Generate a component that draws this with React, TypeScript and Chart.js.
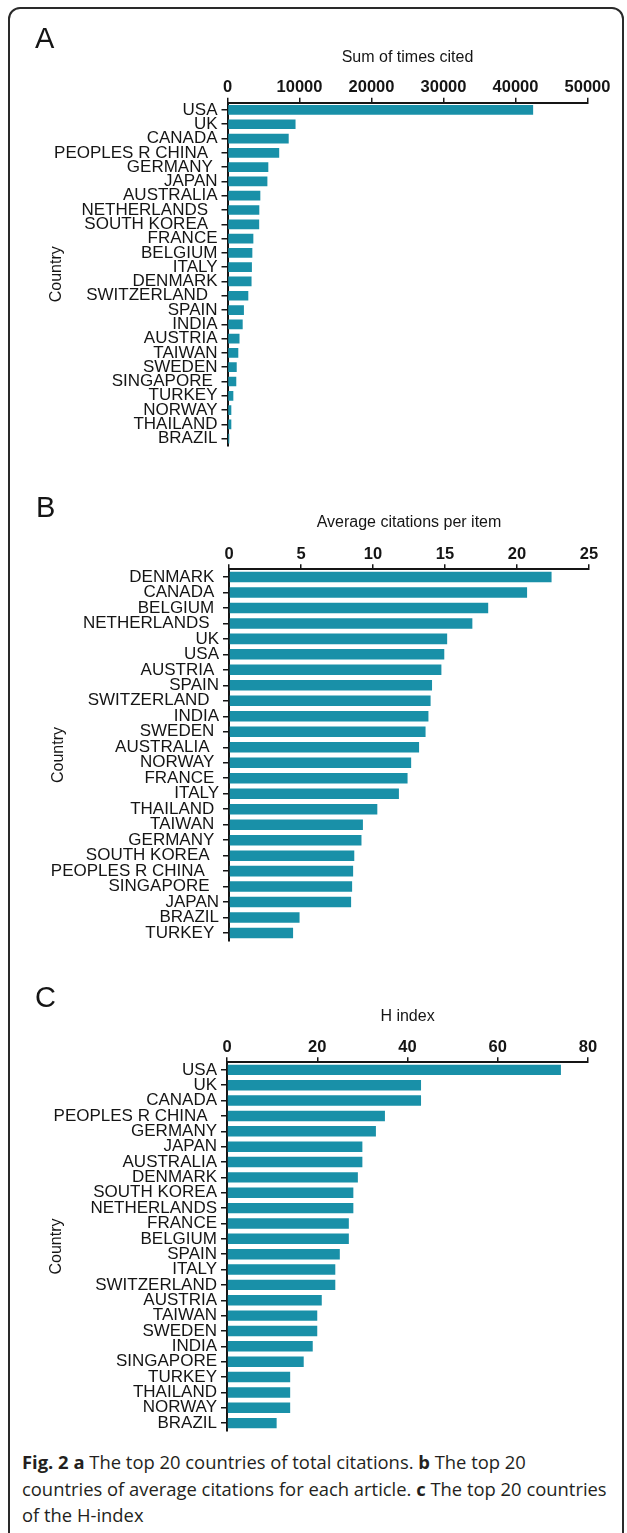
import React, { useEffect, useRef } from "react";
import { Chart, registerables } from "chart.js";

Chart.register(...registerables);

// ---------- DATA ----------
const countriesA = [
  "USA", "UK", "CANADA", "PEOPLES R CHINA  ", "GERMANY ", "JAPAN", "AUSTRALIA",
  "NETHERLANDS  ", "SOUTH KOREA  ", "FRANCE", "BELGIUM", "ITALY", "DENMARK",
  "SWITZERLAND  ", "SPAIN", "INDIA", "AUSTRIA", "TAIWAN", "SWEDEN", "SINGAPORE ",
  "TURKEY", "NORWAY", "THAILAND", "BRAZIL",
];
const timesCited = [
  42450, 9450, 8500, 7180, 5670, 5540, 4560, 4420, 4400, 3590, 3450, 3390, 3340,
  2890, 2280, 2110, 1670, 1500, 1280, 1220, 810, 530, 530, 250,
];
const ticksA = [0, 10000, 20000, 30000, 40000, 50000];

const countriesB = [
  "DENMARK ", "CANADA ", "BELGIUM ", "NETHERLANDS  ", "UK", "USA", "AUSTRIA ",
  "SPAIN", "SWITZERLAND  ", "INDIA", "SWEDEN ", "AUSTRALIA  ", "NORWAY ", "FRANCE ",
  "ITALY", "THAILAND ", "TAIWAN ", "GERMANY ", "SOUTH KOREA  ", "PEOPLES R CHINA   ",
  "SINGAPORE  ", "JAPAN", "BRAZIL", "TURKEY ",
];
const avgCitations = [
  22.4, 20.7, 18.0, 16.9, 15.15, 14.95, 14.75, 14.1, 14.0, 13.85, 13.65, 13.2,
  12.65, 12.4, 11.8, 10.3, 9.3, 9.2, 8.7, 8.62, 8.55, 8.48, 4.9, 4.45,
];
const ticksB = [0, 5, 10, 15, 20, 25];

const countriesC = [
  "USA", "UK", "CANADA", "PEOPLES R CHINA  ", "GERMANY", "JAPAN", "AUSTRALIA",
  "DENMARK", "SOUTH KOREA", "NETHERLANDS", "FRANCE", "BELGIUM", "SPAIN", "ITALY",
  "SWITZERLAND", "AUSTRIA", "TAIWAN", "SWEDEN", "INDIA", "SINGAPORE", "TURKEY",
  "THAILAND", "NORWAY", "BRAZIL",
];
const hIndex = [
  74, 43, 43, 35, 33, 30, 30, 29, 28, 28, 27, 27, 25, 24, 24, 21, 20, 20, 19, 17,
  14, 14, 14, 11,
];
const ticksC = [0, 20, 40, 60, 80];

const BAR = "#1990a8";
const INK = "#151515";
const FONT = "'Liberation Sans', Arial, Helvetica, sans-serif";
const W = 627;

type Geom = {
  canvasTop: number;
  canvasBottom: number;
  left: number;
  right: number;
  top: number;
  bottom: number;
  titleY: number;
  countryX: number;
};

function Panel(props: {
  labels: string[];
  values: number[];
  ticks: number[];
  xTitle: string;
  g: Geom;
}) {
  const ref = useRef<HTMLCanvasElement | null>(null);
  const { labels, values, ticks, xTitle, g } = props;
  const H = g.canvasBottom - g.canvasTop;

  useEffect(() => {
    if (!ref.current) return;
    const titleSize = 16;
    const titleLH = titleSize * 1.2;
    const chart = new Chart(ref.current, {
      type: "bar",
      data: {
        labels,
        datasets: [
          {
            data: values,
            backgroundColor: BAR,
            borderWidth: 0,
            barPercentage: 0.68,
            categoryPercentage: 1,
          },
        ],
      },
      options: {
        indexAxis: "y",
        animation: false,
        responsive: false,
        devicePixelRatio: 1,
        layout: {
          padding: {
            left: 0,
            top: 0,
            right: W - g.right,
            bottom: g.canvasBottom - g.bottom,
          },
        },
        plugins: {
          legend: { display: false },
          tooltip: { enabled: false },
        },
        scales: {
          x: {
            position: "top",
            min: ticks[0],
            max: ticks[ticks.length - 1],
            afterBuildTicks: (s: any) => {
              s.ticks = ticks.map((v) => ({ value: v }));
            },
            afterFit: (s: any) => {
              s.height = g.top - g.canvasTop;
            },
            grid: {
              display: true,
              drawOnChartArea: false,
              drawTicks: true,
              tickLength: 5,
              color: INK,
              lineWidth: 1.5,
            },
            border: { display: true, color: INK, width: 2 },
            ticks: {
              color: INK,
              padding: 0,
              maxRotation: 0,
              autoSkip: false,
              callback: (v: any) => String(v),
              font: { family: FONT, size: 16.5, weight: "bold" },
            },
            title: {
              display: true,
              text: xTitle,
              color: INK,
              font: { family: FONT, size: titleSize },
              padding: { top: g.titleY - g.canvasTop - titleLH / 2, bottom: 0 },
            },
          },
          y: {
            position: "left",
            afterFit: (s: any) => {
              s.width = g.left;
            },
            grid: {
              display: true,
              drawOnChartArea: false,
              drawTicks: true,
              tickLength: 6,
              offset: false,
              color: INK,
              lineWidth: 1.5,
            },
            border: { display: true, color: INK, width: 2 },
            ticks: {
              color: INK,
              padding: 4,
              autoSkip: false,
              font: { family: FONT, size: 17 },
            },
            title: {
              display: true,
              text: "Country",
              color: INK,
              font: { family: FONT, size: titleSize },
              padding: { top: g.countryX - titleLH / 2, bottom: 0 },
            },
          },
        },
      },
    } as any);
    return () => chart.destroy();
  }, []);

  return (
    <canvas
      ref={ref}
      width={W}
      height={H}
      style={{
        position: "absolute",
        left: 0,
        top: g.canvasTop,
        width: W,
        height: H,
      }}
    />
  );
}

const geomA: Geom = {
  canvasTop: 40,
  canvasBottom: 460,
  left: 227.5,
  right: 587.5,
  top: 102.8,
  bottom: 447.2,
  titleY: 58,
  countryX: 57,
};
const geomB: Geom = {
  canvasTop: 508,
  canvasBottom: 955,
  left: 229,
  right: 589,
  top: 569.2,
  bottom: 942.9,
  titleY: 523,
  countryX: 59,
};
const geomC: Geom = {
  canvasTop: 1000,
  canvasBottom: 1445,
  left: 227,
  right: 588,
  top: 1062.2,
  bottom: 1435.6,
  titleY: 1017,
  countryX: 57,
};

function Letter(props: { text: string; x: number; y: number }) {
  return (
    <div
      style={{
        position: "absolute",
        left: props.x,
        top: props.y - 16,
        height: 32,
        lineHeight: "32px",
        fontFamily: FONT,
        fontSize: 29,
        color: INK,
      }}
    >
      {props.text}
    </div>
  );
}

export default function App() {
  return (
    <div
      style={{
        position: "absolute",
        left: 0,
        top: 0,
        width: W,
        height: 1533,
        overflow: "hidden",
        background: "#fff",
      }}
    >
      <div
        style={{
          position: "absolute",
          left: 8,
          top: 7,
          width: 616,
          height: 1550,
          border: "2px solid #2a2a2a",
          borderRadius: 12,
          boxSizing: "border-box",
        }}
      />
      <Panel labels={countriesA} values={timesCited} ticks={ticksA} xTitle="Sum of times cited" g={geomA} />
      <Panel labels={countriesB} values={avgCitations} ticks={ticksB} xTitle="Average citations per item" g={geomB} />
      <Panel labels={countriesC} values={hIndex} ticks={ticksC} xTitle="H index" g={geomC} />
      <Letter text="A" x={35} y={38} />
      <Letter text="B" x={36} y={507} />
      <Letter text="C" x={35} y={997} />
      <div
        style={{
          position: "absolute",
          left: 22,
          top: 1449,
          width: 600,
          fontFamily: "'Open Sans', sans-serif",
          fontSize: 18.4,
          lineHeight: "26.5px",
          color: "#231f20",
          whiteSpace: "nowrap",
        }}
      >
        <b>Fig. 2</b> <b>a</b> The top 20 countries of total citations. <b>b</b> The top 20
        <br />
        countries of average citations for each article. <b>c</b> The top 20 countries
        <br />
        of the H-index
      </div>
    </div>
  );
}
